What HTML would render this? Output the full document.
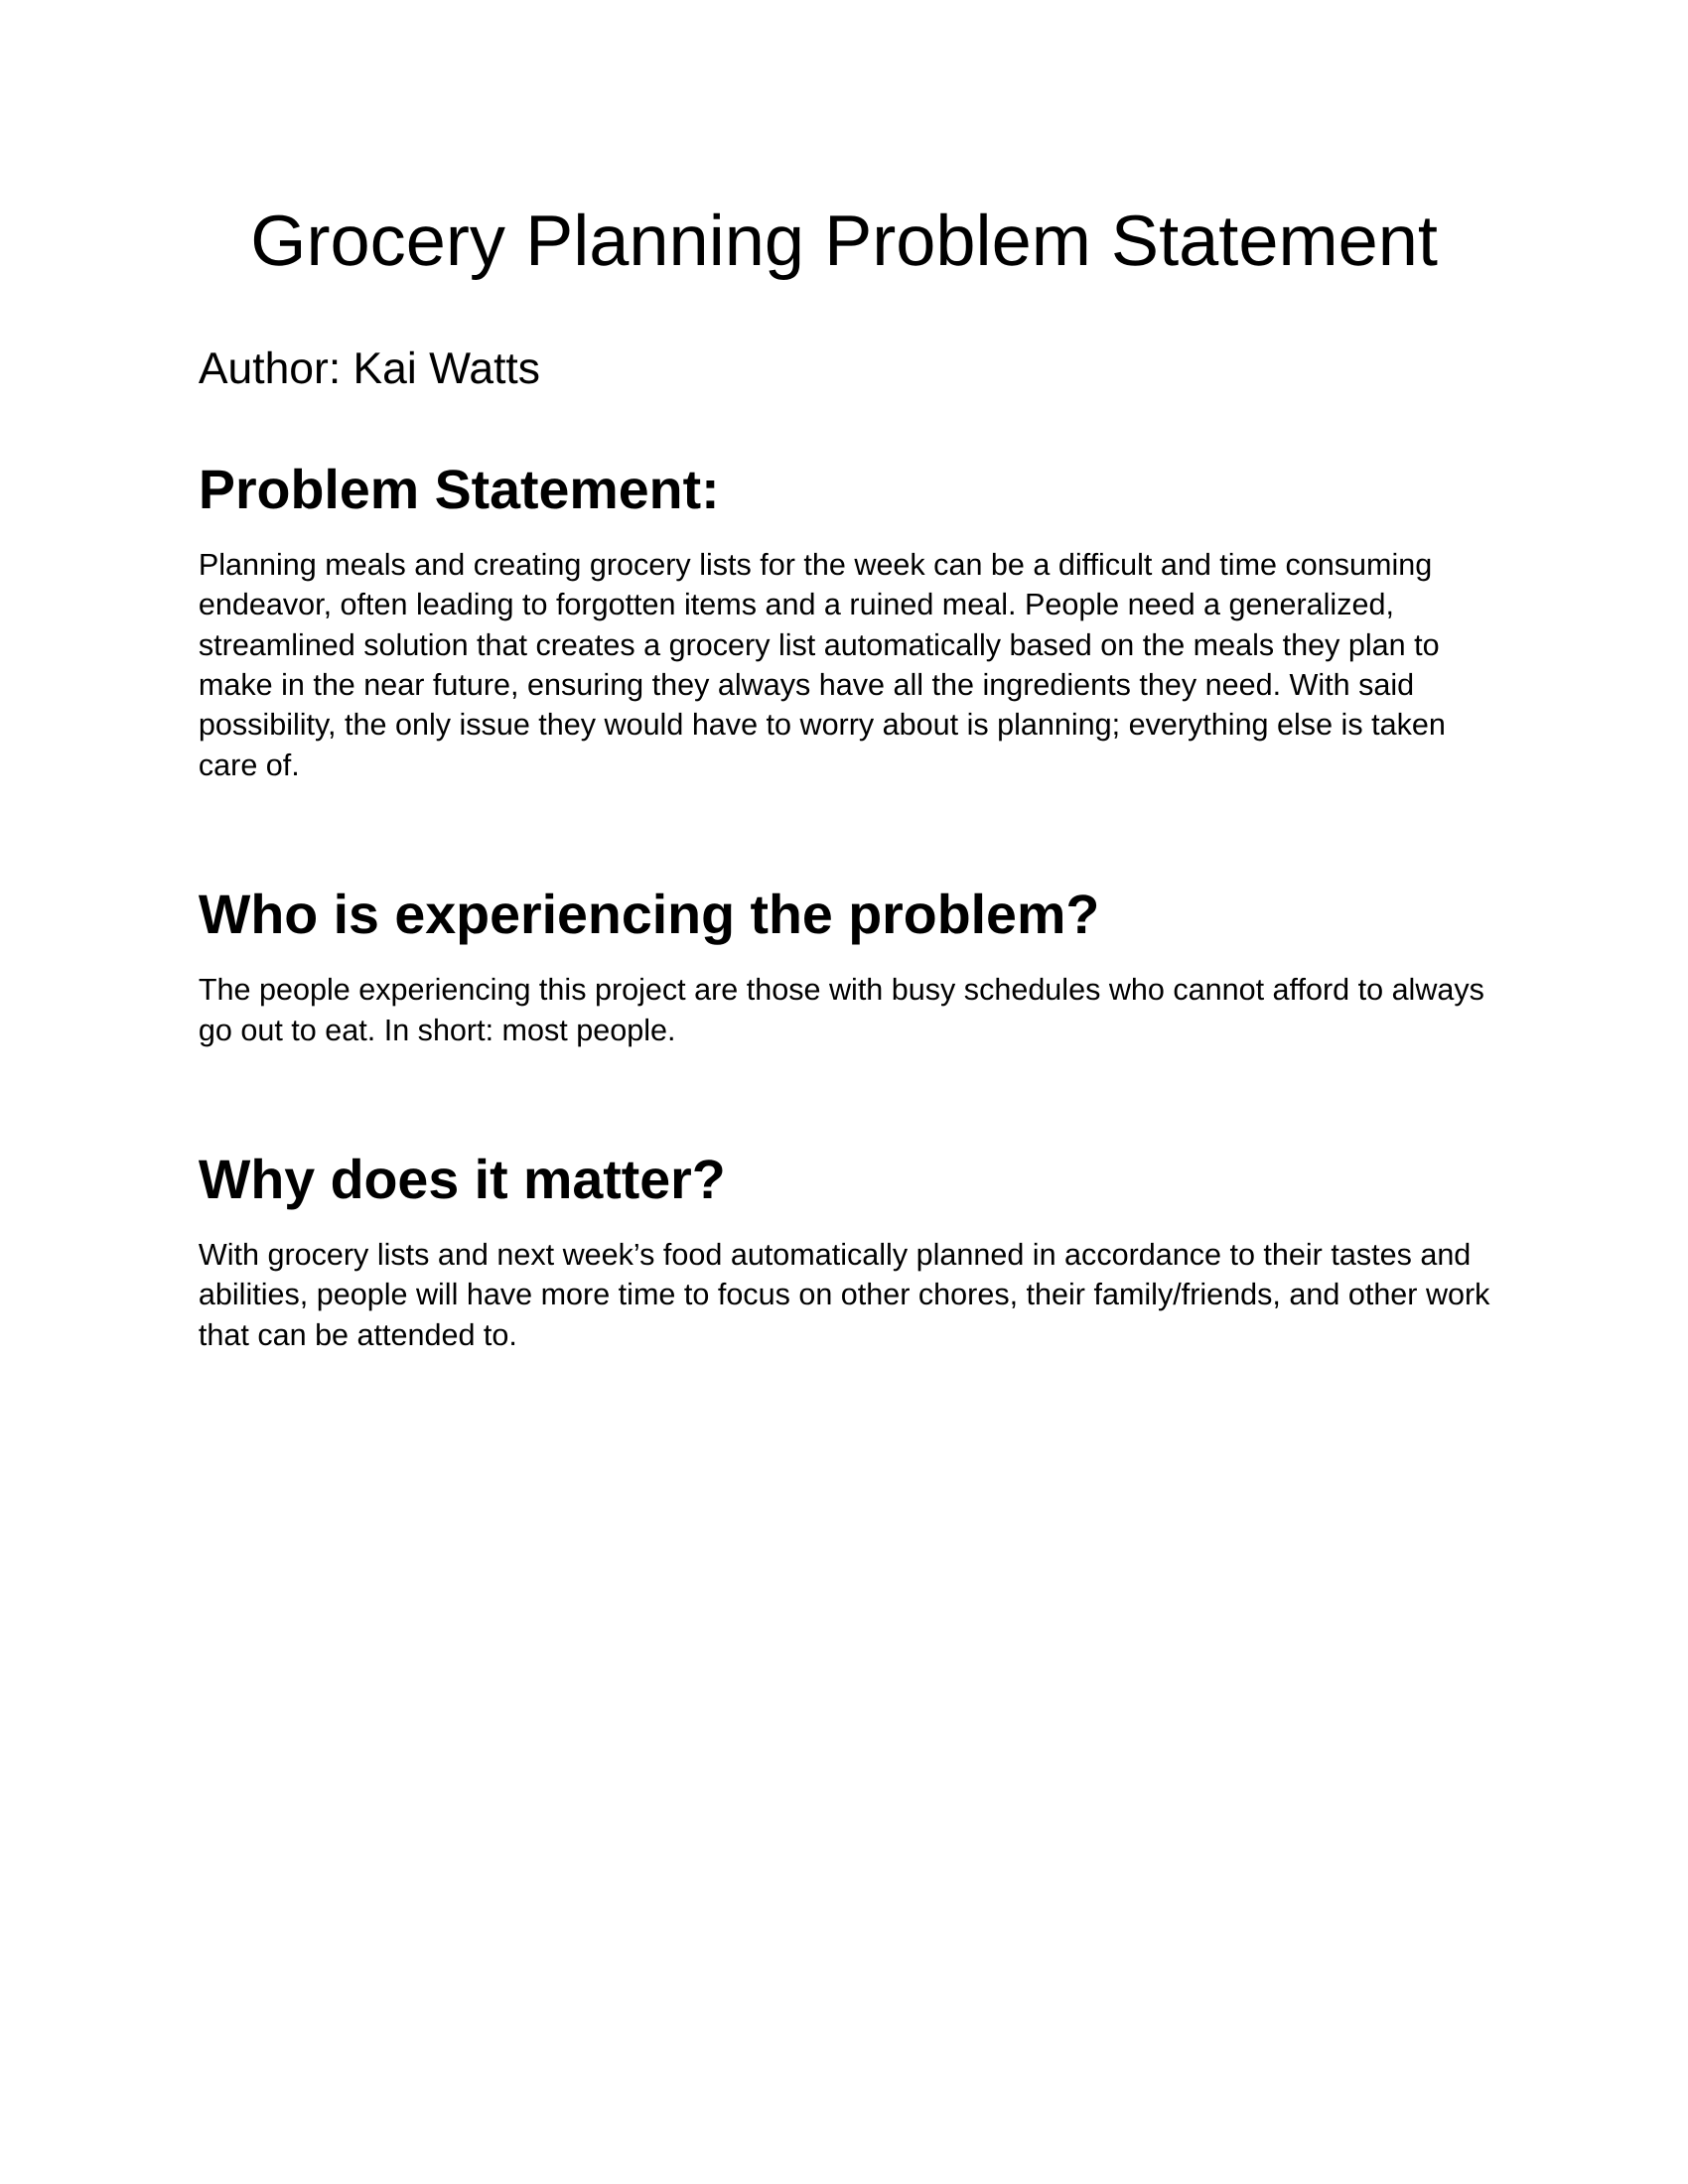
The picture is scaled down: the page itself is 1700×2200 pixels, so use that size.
<!DOCTYPE html>
<html lang="en">
<head>
<meta charset="utf-8">
<title>Grocery Planning Problem Statement</title>
<style>
  html, body { margin: 0; padding: 0; background: #fff; }
  #page { position: relative; width: 1700px; height: 2200px; background: #fff; overflow: hidden; font-family: "Liberation Sans", Arial, sans-serif; color: #000; text-rendering: geometricPrecision; }
  .l { position: absolute; left: 199.9px; top: calc(var(--b) - 0.8465em + 1.4px); line-height: 1; white-space: nowrap; margin: 0; font-weight: 400; }
  .title { font-size: 72.2px; left: 252.3px; top: calc(var(--b) - 0.8465em + 0.7px); }
  .author { font-size: 44.44px; }
  .h { font-size: 55.56px; font-weight: 700; }
  .p { font-size: 30.56px; }
</style>
</head>
<body>
<div id="page">
  <h1 class="l title" style="--b:267.7px">Grocery Planning Problem Statement</h1>
  <div class="l author" style="--b:386.7px">Author: Kai Watts</div>

  <h2 class="l h" style="--b:511.7px">Problem Statement:</h2>
  <div>
    <div class="l p" style="--b:578.3px">Planning meals and creating grocery lists for the week can be a difficult and time consuming</div>
    <div class="l p" style="--b:618.7px">endeavor, often leading to forgotten items and a ruined meal. People need a generalized,</div>
    <div class="l p" style="--b:659.1px">streamlined solution that creates a grocery list automatically based on the meals they plan to</div>
    <div class="l p" style="--b:699.5px">make in the near future, ensuring they always have all the ingredients they need. With said</div>
    <div class="l p" style="--b:739.9px">possibility, the only issue they would have to worry about is planning; everything else is taken</div>
    <div class="l p" style="--b:780.3px">care of.</div>
  </div>

  <h2 class="l h" style="--b:940px">Who is experiencing the problem?</h2>
  <div>
    <div class="l p" style="--b:1006.7px">The people experiencing this project are those with busy schedules who cannot afford to always</div>
    <div class="l p" style="--b:1047.1px">go out to eat. In short: most people.</div>
  </div>

  <h2 class="l h" style="--b:1207px">Why does it matter?</h2>
  <div>
    <div class="l p" style="--b:1273.3px">With grocery lists and next week’s food automatically planned in accordance to their tastes and</div>
    <div class="l p" style="--b:1313.7px">abilities, people will have more time to focus on other chores, their family/friends, and other work</div>
    <div class="l p" style="--b:1354.1px">that can be attended to.</div>
  </div>
</div>
</body>
</html>
